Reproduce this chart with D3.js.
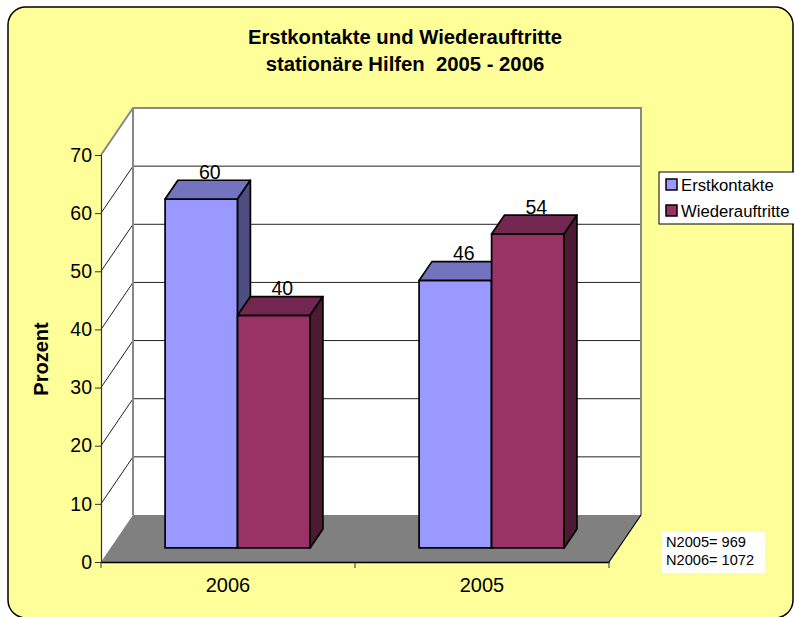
<!DOCTYPE html>
<html>
<head>
<meta charset="utf-8">
<script src="https://cdn.jsdelivr.net/npm/d3@7"></script>
<style>
  html, body { margin: 0; padding: 0; background: #fff; }
  svg { display: block; font-family: Arial, "Liberation Sans", sans-serif; }
  text { white-space: pre; }
</style>
</head>
<body>
<div id="chart"></div>
<script>
'use strict';

// data
var categories = ['2006', '2005'];
var seriesNames = ['Erstkontakte', 'Wiederauftritte'];
var erstkontakte = [60, 46];
var wiederauftritte = [40, 54];
var yTicks = [0, 10, 20, 30, 40, 50, 60, 70];
var titleLines = ['Erstkontakte und Wiederauftritte', 'stationäre Hilfen  2005 - 2006'];
var noteLines = ['N2005= 969', 'N2006= 1072'];

var chart = (function() {

    var init = function() {
        var width = 794, height = 617;

        // oblique 3d depth offset (full depth of the plot box)
        var DX = 32, DY = -47;
        var barFront = 0.3, barBack = 0.7;

        var faces = [
            { front: '#9999ff', top: '#7373bf', side: '#4d4d80' },
            { front: '#993366', top: '#732650', side: '#4d1a33' }
        ];

        var svg = d3.select('#chart').append('svg')
            .attr('width', width)
            .attr('height', height);

        // chart area
        svg.append('rect')
            .attr('x', 8).attr('y', 7)
            .attr('width', 785).attr('height', 611)
            .attr('rx', 18).attr('ry', 18)
            .attr('fill', '#ffff99')
            .attr('stroke', '#000')
            .attr('stroke-width', 1.5);

        var x0 = d3.scaleBand()
            .domain(categories)
            .range([101, 609])
            .paddingInner(0.429)
            .paddingOuter(0.2145);

        var x1 = d3.scaleBand()
            .domain(seriesNames)
            .range([0, x0.bandwidth()]);

        var y = d3.scaleLinear()
            .domain([0, 70])
            .range([562, 155]);

        function pt(x, v, d) {
            return [x + DX * d, y(v) + DY * d];
        }
        function poly(points) {
            return 'M' + points.map(function(p) { return p[0] + ',' + p[1]; }).join('L') + 'Z';
        }

        var xl = x0.range()[0], xr = x0.range()[1];

        // side wall
        svg.append('path')
            .attr('d', poly([pt(xl, 0, 0), pt(xl, 70, 0), pt(xl, 70, 1), pt(xl, 0, 1)]))
            .attr('fill', '#fff');
        // back wall
        svg.append('path')
            .attr('d', poly([pt(xl, 0, 1), pt(xl, 70, 1), pt(xr, 70, 1), pt(xr, 0, 1)]))
            .attr('fill', '#fff');

        // gridlines on walls
        var grid = svg.append('g');
        yTicks.filter(function(t) { return t > 0 && t < 70; }).forEach(function(t) {
            var a = pt(xl, t, 0), b = pt(xl, t, 1), c = pt(xr, t, 1);
            grid.append('path')
                .attr('d', 'M' + a + 'L' + b + 'L' + c)
                .attr('fill', 'none')
                .attr('stroke', '#222')
                .attr('stroke-width', 1);
        });

        // wall outline
        svg.append('path')
            .attr('d', 'M' + pt(xl, 70, 0) + 'L' + pt(xl, 70, 1) + 'L' + pt(xr, 70, 1) + 'L' + pt(xr, 0, 1)
                + 'M' + pt(xl, 70, 1) + 'L' + pt(xl, 0, 1))
            .attr('fill', 'none')
            .attr('stroke', '#888')
            .attr('stroke-width', 2);

        // floor
        svg.append('path')
            .attr('d', poly([pt(xl, 0, 0), pt(xr, 0, 0), pt(xr, 0, 1), pt(xl, 0, 1)]))
            .attr('fill', '#808080');
        svg.append('path')
            .attr('d', 'M' + pt(xr, 0, 0) + 'L' + pt(xr, 0, 1))
            .attr('stroke', '#000')
            .attr('stroke-width', 1.2);

        // bars
        var series = [erstkontakte, wiederauftritte];
        var bars = svg.append('g')
            .attr('stroke', '#000')
            .attr('stroke-width', 1.7)
            .attr('stroke-linejoin', 'round');

        categories.forEach(function(cat, ci) {
            seriesNames.forEach(function(name, si) {
                var v = series[si][ci];
                var xa = x0(cat) + x1(name), xb = xa + x1.bandwidth();
                var f = faces[si];
                bars.append('path')
                    .attr('d', poly([pt(xa, 0, barFront), pt(xa, v, barFront), pt(xb, v, barFront), pt(xb, 0, barFront)]))
                    .attr('fill', f.front);
                bars.append('path')
                    .attr('d', poly([pt(xa, v, barFront), pt(xa, v, barBack), pt(xb, v, barBack), pt(xb, v, barFront)]))
                    .attr('fill', f.top);
                bars.append('path')
                    .attr('d', poly([pt(xb, 0, barFront), pt(xb, v, barFront), pt(xb, v, barBack), pt(xb, 0, barBack)]))
                    .attr('fill', f.side);
            });
        });

        // value labels
        categories.forEach(function(cat, ci) {
            seriesNames.forEach(function(name, si) {
                var v = series[si][ci];
                var cx = x0(cat) + x1(name) + x1.bandwidth() / 2;
                var p = pt(cx, v, (barFront + barBack) / 2);
                svg.append('text')
                    .attr('x', p[0] + 2)
                    .attr('y', p[1] - 11)
                    .attr('text-anchor', 'middle')
                    .attr('font-size', '19.5px')
                    .attr('fill', '#000')
                    .text(v);
            });
        });

        // y axis (front edge)
        var yAxis = d3.axisLeft(y)
            .tickValues(yTicks)
            .tickSize(6)
            .tickPadding(3);
        var gy = svg.append('g')
            .attr('transform', 'translate(' + xl + ',0)')
            .call(yAxis);
        gy.select('.domain').attr('stroke', '#333').attr('stroke-width', 1.2);
        gy.selectAll('.tick line').attr('stroke', '#333');
        gy.selectAll('.tick text')
            .attr('font-size', '19.5px')
            .attr('font-family', 'Arial, "Liberation Sans", sans-serif')
            .attr('fill', '#000');

        // x axis (front edge)
        var xAxis = d3.axisBottom(x0).tickSize(0).tickPadding(16);
        var gx = svg.append('g')
            .attr('transform', 'translate(0,' + y(0) + ')')
            .call(xAxis);
        gx.select('.domain').attr('stroke', '#000').attr('stroke-width', 1.5);
        gx.selectAll('.tick text')
            .attr('font-size', '20px')
            .attr('font-family', 'Arial, "Liberation Sans", sans-serif')
            .attr('fill', '#000');
        // category separator ticks
        gx.selectAll('line.sep')
            .data([xl, (xl + xr) / 2, xr])
            .enter().append('line')
            .attr('class', 'sep')
            .attr('x1', function(d) { return d; })
            .attr('x2', function(d) { return d; })
            .attr('y1', 0).attr('y2', 6)
            .attr('stroke', '#333');

        // axis title
        svg.append('text')
            .attr('transform', 'translate(48,359) rotate(-90)')
            .attr('text-anchor', 'middle')
            .attr('font-size', '20px')
            .attr('font-weight', 'bold')
            .text('Prozent');

        // chart title
        svg.append('g').selectAll('text')
            .data(titleLines)
            .enter().append('text')
            .attr('x', 405)
            .attr('y', function(d, i) { return 44 + i * 27; })
            .attr('text-anchor', 'middle')
            .attr('font-size', '20.3px')
            .attr('font-weight', 'bold')
            .text(function(d) { return d; });

        // legend
        var legend = svg.append('g');
        legend.append('rect')
            .attr('x', 659).attr('y', 172)
            .attr('width', 160).attr('height', 52)
            .attr('fill', '#fff')
            .attr('stroke', '#000')
            .attr('stroke-width', 1);
        var item = legend.selectAll('g.item')
            .data(seriesNames)
            .enter().append('g')
            .attr('class', 'item')
            .attr('transform', function(d, i) { return 'translate(666,' + (179 + i * 26) + ')'; });
        item.append('rect')
            .attr('width', 11).attr('height', 11)
            .attr('fill', function(d, i) { return faces[i].front; })
            .attr('stroke', '#000')
            .attr('stroke-width', 1.5);
        item.append('text')
            .attr('x', 15)
            .attr('y', 12)
            .attr('font-size', '16.7px')
            .text(function(d) { return d; });

        // sample size note
        svg.append('rect')
            .attr('x', 662).attr('y', 532)
            .attr('width', 103).attr('height', 41)
            .attr('fill', '#fff');
        svg.append('g').selectAll('text')
            .data(noteLines)
            .enter().append('text')
            .attr('x', 666)
            .attr('y', function(d, i) { return 547 + i * 18; })
            .attr('font-size', '14.6px')
            .text(function(d) { return d; });
    };

    return { init: init };
})();

chart.init();
</script>
</body>
</html>
